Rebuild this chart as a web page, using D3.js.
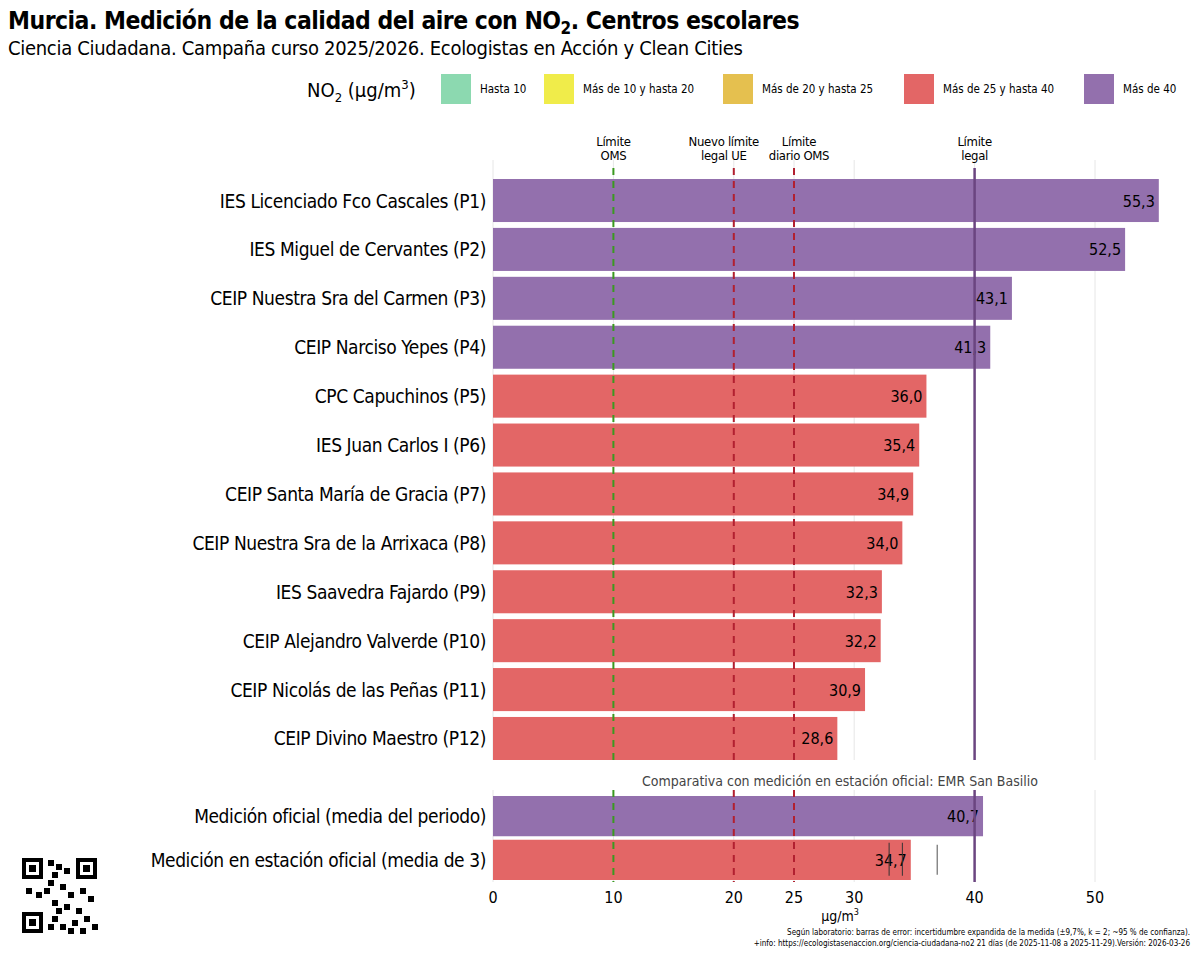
<!DOCTYPE html>
<html><head><meta charset="utf-8">
<script src="https://cdn.jsdelivr.net/npm/d3@7"></script>
<style>body{margin:0;background:#fff}svg{font-family:"DejaVu Sans";font-stretch:condensed}text{font-stretch:condensed}</style>
</head><body><svg id="c" width="1200" height="955"></svg>
<script>
const schools=["IES Licenciado Fco Cascales (P1)","IES Miguel de Cervantes (P2)","CEIP Nuestra Sra del Carmen (P3)","CEIP Narciso Yepes (P4)","CPC Capuchinos (P5)","IES Juan Carlos I (P6)","CEIP Santa María de Gracia (P7)","CEIP Nuestra Sra de la Arrixaca (P8)","IES Saavedra Fajardo (P9)","CEIP Alejandro Valverde (P10)","CEIP Nicolás de las Peñas (P11)","CEIP Divino Maestro (P12)"];
const schoolValues=[55.3,52.5,43.1,41.3,36.0,35.4,34.9,34.0,32.3,32.2,30.9,28.6];
const officialLabels=["Medición oficial (media del periodo)","Medición en estación oficial (media de 3)"];
const officialValues=[40.7,34.7];
const stationMarks=[32.9,34.0];
const stationGreyMark=[36.9];
const xTicks=[0,10,20,25,30,40,50];
const legendLabels=["Hasta 10","Más de 10 y hasta 20","Más de 20 y hasta 25","Más de 25 y hasta 40","Más de 40"];
const legendColors=["#8cd9b0","#f0ec4a","#e5c04f","#e36666","#9370ad"];
const limitValues=[10,20,25,40];
const limitLabels=[["Límite","OMS"],["Nuevo límite","legal UE"],["Límite","diario OMS"],["Límite","legal"]];
const limitColors=["#3a9a20","#b22030","#b22030","#6b4580"];

const svg=d3.select("#c");
const x=d3.scaleLinear().domain([0,50]).range([493,1095]);
const color=v=>v>40?legendColors[4]:v>25?legendColors[3]:v>20?legendColors[2]:v>10?legendColors[1]:legendColors[0];
const y1=d3.scaleBand().domain(schools).range([179,760]).paddingInner(0.12).paddingOuter(0);
const y2=d3.scaleBand().domain(officialLabels).range([796,880]).paddingInner(0.08);

const tt=svg.append("text").attr("x",8).attr("y",29).attr("font-size",24.5).attr("font-weight","bold").attr("letter-spacing",-0.5).text("Murcia. Medición de la calidad del aire con NO");
tt.append("tspan").attr("font-size",17).attr("dy",5).text("2");
tt.append("tspan").attr("dy",-5).text(". Centros escolares");
svg.append("text").attr("x",8).attr("y",55).attr("font-size",20).attr("letter-spacing",-0.3).text("Ciencia Ciudadana. Campaña curso 2025/2026. Ecologistas en Acción y Clean Cities");

// legend
const lt=svg.append("text").attr("x",307).attr("y",97).attr("font-size",20).text("NO");
lt.append("tspan").attr("font-size",13).attr("dy",5).text("2");
lt.append("tspan").attr("dy",-5).text(" (µg/m");
lt.append("tspan").attr("font-size",13).attr("dy",-8).text("3");
lt.append("tspan").attr("dy",8).text(")");
const lx=[441,544,723,904,1084];
legendLabels.forEach((l,i)=>{
  svg.append("rect").attr("x",lx[i]).attr("y",74).attr("width",30).attr("height",30).attr("fill",legendColors[i]);
  svg.append("text").attr("x",lx[i]+39).attr("y",93).attr("font-size",11.5).text(l);
});

// gridlines
[[160,760],[790,882]].forEach(([a,b])=>{
  svg.append("g").selectAll("line").data(xTicks).join("line").attr("x1",d=>x(d)).attr("x2",d=>x(d)).attr("y1",a).attr("y2",b).attr("stroke","#e6e6e6");
});

function bars(scale,labels,vals){
  const g=svg.append("g");
  g.selectAll("rect").data(vals).join("rect").attr("x",x(0)).attr("y",(d,i)=>scale(labels[i])).attr("width",d=>x(d)-x(0)).attr("height",scale.bandwidth()).attr("fill",d=>color(d));
  g.selectAll("text.l").data(labels).join("text").attr("x",486).attr("y",d=>scale(d)+scale.bandwidth()/2+7).attr("text-anchor","end").attr("font-size",19).attr("letter-spacing",-0.4).text(d=>d);
  return g;
}
const g1=bars(y1,schools,schoolValues);
const g2=bars(y2,officialLabels,officialValues);

// limit lines
[[168,y1.range()[1]],[790,882]].forEach(([a,b])=>{
  limitValues.forEach((v,i)=>{
    svg.append("line").attr("x1",x(v)).attr("x2",x(v)).attr("y1",a).attr("y2",b).attr("stroke",limitColors[i]).attr("stroke-width",i==3?2.5:2).attr("stroke-dasharray",i==3?null:"7,6");
  });
});
const labX=[x(10),x(20)-10,x(25)+5,x(40)];
limitLabels.forEach((ls,i)=>{
  ls.forEach((t,j)=>svg.append("text").attr("x",labX[i]).attr("y",146+j*14).attr("text-anchor","middle").attr("font-size",13).attr("letter-spacing",-0.3).text(t));
});

// value labels
g1.selectAll("text.v").data(schoolValues).join("text").attr("x",d=>x(d)-4).attr("y",(d,i)=>y1(schools[i])+y1.bandwidth()/2+6).attr("text-anchor","end").attr("font-size",16).text(d=>d.toFixed(1).replace(".",","));
g2.selectAll("text.v").data(officialValues).join("text").attr("x",d=>x(d)-4).attr("y",(d,i)=>y2(officialLabels[i])+y2.bandwidth()/2+6).attr("text-anchor","end").attr("font-size",16).text(d=>d.toFixed(1).replace(".",","));

// station marks
const yb=y2(officialLabels[1]);
svg.selectAll("line.sm").data(stationMarks).join("line").attr("x1",d=>x(d)).attr("x2",d=>x(d)).attr("y1",yb+3).attr("y2",yb+36).attr("stroke","#333").attr("stroke-width",1);
svg.selectAll("line.sg").data(stationGreyMark).join("line").attr("x1",d=>x(d)).attr("x2",d=>x(d)).attr("y1",yb+5).attr("y2",yb+35).attr("stroke","#888").attr("stroke-width",1.5);

svg.append("text").attr("x",840).attr("y",786).attr("text-anchor","middle").attr("font-size",14).attr("fill","#444").text("Comparativa con medición en estación oficial: EMR San Basilio");

// x axis
svg.append("g").selectAll("text").data(xTicks).join("text").attr("x",d=>x(d)).attr("y",903).attr("text-anchor","middle").attr("font-size",16).text(d=>d);
const ax=svg.append("text").attr("x",840).attr("y",921).attr("text-anchor","middle").attr("font-size",14).text("µg/m");
ax.append("tspan").attr("font-size",9).attr("dy",-6).text("3");

svg.append("text").attr("x",1190).attr("y",935).attr("text-anchor","end").attr("font-size",8).text("Según laboratorio: barras de error: incertidumbre expandida de la medida (±9,7%, k = 2; ~95 % de confianza).");
svg.append("text").attr("x",1190).attr("y",946).attr("text-anchor","end").attr("font-size",8).text("+info: https://ecologistasenaccion.org/ciencia-ciudadana-no2 21 días (de 2025-11-08 a 2025-11-29).Versión: 2026-03-26");

// QR-like decoration
const qr=svg.append("g").attr("transform","translate(22,858)");
[[0,0],[54,0],[0,54]].forEach(([a,b])=>{
  qr.append("rect").attr("x",a+2).attr("y",b+2).attr("width",17).attr("height",17).attr("fill","none").attr("stroke","#000").attr("stroke-width",4);
  qr.append("rect").attr("x",a+7).attr("y",b+7).attr("width",7).attr("height",7).attr("fill","#000");
});
const qrCells=[[26,2],[34,6],[30,14],[42,10],[26,22],[38,26],[4,30],[14,34],[22,30],[46,34],[58,30],[66,38],[30,42],[42,46],[54,50],[62,58],[70,66],[30,58],[38,66],[46,70],[58,70],[26,66],[34,50],[50,62]];
qr.selectAll("rect.c").data(qrCells).join("rect").attr("x",d=>d[0]).attr("y",d=>d[1]).attr("width",6).attr("height",6).attr("fill","#000");
</script></body></html>
